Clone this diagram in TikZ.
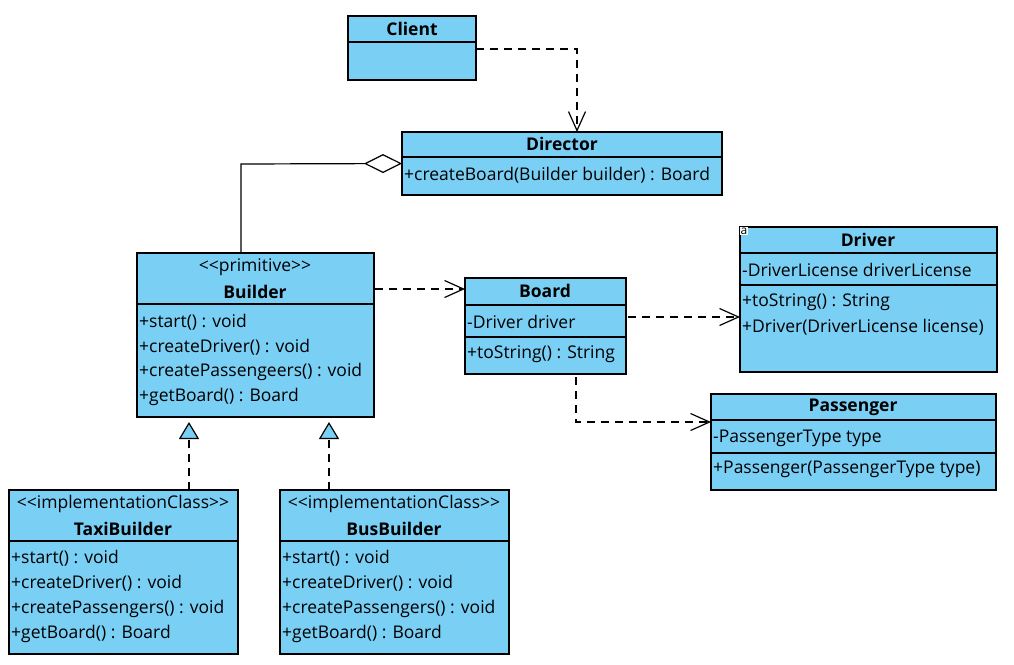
\documentclass[tikz,border=0pt]{standalone}
\usepackage{fontspec}
\setmainfont{Open Sans}
\usetikzlibrary{arrows.meta}

\definecolor{classblue}{RGB}{122,207,245}

\tikzset{
	classbox/.style = {draw, line width = 1.2pt, fill = classblue, inner sep = 0pt, outer sep = 0pt, anchor = north west},
	member/.style = {anchor = west, inner sep = 0pt, font = \fontsize{17.5}{20}\selectfont},
	classname/.style = {inner sep = 0pt, font = \fontsize{17.5}{20}\selectfont\bfseries},
	stereo/.style = {inner sep = 0pt, font = \fontsize{17.5}{20}\selectfont},
	sep/.style = {line width = 1.2pt},
	depend/.style = {line width = 1.2pt, dash pattern = on 8pt off 6pt, -{Straight Barb[length = 19pt, width = 17pt]}},
	realize/.style = {line width = 1.2pt, dash pattern = on 8pt off 6pt, -{Triangle[length = 17pt, width = 20pt, fill = classblue]}},
	aggregate/.style = {line width = 1.2pt, {Diamond[length = 38pt, width = 19pt, fill = white]}-}
}

\newcommand{\sepline}[2]{\draw [sep] (#1.west |- 0,#2) -- (#1.east |- 0,#2);}

\begin{document}
\begin{tikzpicture}[x = 1pt, y = -1pt]

	\useasboundingbox (0, 0) rectangle (1014, 664);

	% Client

	\node [classbox, minimum width = 128pt, minimum height = 64pt] (client) at (348, 16) {};
	\sepline{client}{42}
	\node [classname] (clientName) at (412, 29) {Client};

	% Director

	\node [classbox, minimum width = 320pt, minimum height = 63pt] (director) at (402, 132) {};
	\sepline{director}{157}
	\node [classname] (directorName) at (562, 144) {Director};
	\node [member] (directorM1) at (404, 175) {+createBoard(Builder builder) : Board};

	% Builder

	\node [classbox, minimum width = 237pt, minimum height = 164pt] (builder) at (137, 253) {};
	\sepline{builder}{304}
	\node [stereo] (builderStereo) at (255, 267) {<{}<primitive>{}>};
	\node [classname] (builderName) at (255, 292) {Builder};
	\node [member] (builderM1) at (139, 322) {+start() : void};
	\node [member] (builderM2) at (139, 347) {+createDriver() : void};
	\node [member] (builderM3) at (139, 372) {+createPassengeers() : void};
	\node [member] (builderM4) at (139, 397) {+getBoard() : Board};

	% Board

	\node [classbox, minimum width = 161pt, minimum height = 96pt] (board) at (465, 278) {};
	\sepline{board}{305}
	\sepline{board}{337}
	\node [classname] (boardName) at (545, 291) {Board};
	\node [member] (boardA1) at (467, 322) {-Driver driver};
	\node [member] (boardM1) at (467, 354) {+toString() : String};

	% Driver

	\node [classbox, minimum width = 257pt, minimum height = 145pt] (driver) at (740, 227) {};
	\sepline{driver}{253}
	\sepline{driver}{285}
	\node [fill = white, inner sep = 0.5pt, anchor = north west, font = \fontsize{12}{12}\selectfont] (driverIcon) at (740, 227) {a};
	\node [classname] (driverName) at (868, 240) {Driver};
	\node [member] (driverA1) at (742, 270) {-DriverLicense driverLicense};
	\node [member] (driverM1) at (742, 302) {+toString() : String};
	\node [member] (driverM2) at (742, 327) {+Driver(DriverLicense license)};

	% Passenger

	\node [classbox, minimum width = 285pt, minimum height = 96pt] (passenger) at (711, 394) {};
	\sepline{passenger}{420}
	\sepline{passenger}{453}
	\node [classname] (passengerName) at (853, 407) {Passenger};
	\node [member] (passengerA1) at (713, 438) {-PassengerType type};
	\node [member] (passengerM1) at (713, 469) {+Passenger(PassengerType type)};

	% TaxiBuilder

	\node [classbox, minimum width = 229pt, minimum height = 164pt] (taxi) at (9, 490) {};
	\sepline{taxi}{541}
	\node [stereo] (taxiStereo) at (123, 504) {<{}<implementationClass>{}>};
	\node [classname] (taxiName) at (123, 529) {TaxiBuilder};
	\node [member] (taxiM1) at (11, 558) {+start() : void};
	\node [member] (taxiM2) at (11, 583) {+createDriver() : void};
	\node [member] (taxiM3) at (11, 609) {+createPassengers() : void};
	\node [member] (taxiM4) at (11, 634) {+getBoard() : Board};

	% BusBuilder

	\node [classbox, minimum width = 229pt, minimum height = 164pt] (bus) at (280, 490) {};
	\sepline{bus}{541}
	\node [stereo] (busStereo) at (394, 504) {<{}<implementationClass>{}>};
	\node [classname] (busName) at (394, 529) {BusBuilder};
	\node [member] (busM1) at (282, 558) {+start() : void};
	\node [member] (busM2) at (282, 583) {+createDriver() : void};
	\node [member] (busM3) at (282, 609) {+createPassengers() : void};
	\node [member] (busM4) at (282, 634) {+getBoard() : Board};

	% Connector bends

	\coordinate (clientBend) at (577, 49);
	\coordinate (aggBend) at (241, 164);
	\coordinate (builderOut) at (375, 289);
	\coordinate (boardOut) at (628, 317);
	\coordinate (boardDown) at (576, 377);
	\coordinate (boardBend) at (576, 422);
	\coordinate (taxiUp) at (189, 490);
	\coordinate (busUp) at (329, 490);

	% Dependencies

	\draw [depend] (client.east |- clientBend) -- (clientBend) -- (clientBend |- director.north);
	\draw [depend] (builderOut) -- (builderOut -| board.west);
	\draw [depend] (boardOut) -- (boardOut -| driver.west);
	\draw [depend] (boardDown) -- (boardBend) -- (boardBend -| passenger.west);

	% Aggregation

	\draw [aggregate] (director.west) -- (aggBend) -- (aggBend |- builder.north);

	% Realizations

	\draw [realize] (taxiUp) -- ([yshift = -5pt] taxiUp |- builder.south);
	\draw [realize] (busUp) -- ([yshift = -5pt] busUp |- builder.south);

\end{tikzpicture}
\end{document}
